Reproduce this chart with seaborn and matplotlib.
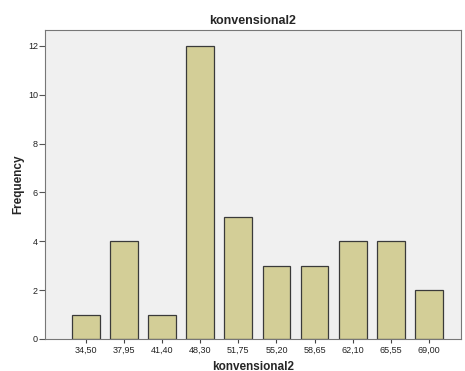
import matplotlib
matplotlib.use("Agg")
import matplotlib.pyplot as plt
import seaborn as sns
import pandas as pd

categories = ["34,50", "37,95", "41,40", "48,30", "51,75", "55,20", "58,65", "62,10", "65,55", "69,00"]
frequency = [1, 4, 1, 12, 5, 3, 3, 4, 4, 2]
y_ticks = [0, 2, 4, 6, 8, 10, 12]

df = pd.DataFrame({"cat": categories, "freq": frequency})

sns.set_style("white")
plt.rcParams['font.family'] = ['Liberation Sans', 'DejaVu Sans']

fig = plt.figure(figsize=(4.65, 3.71), dpi=100)
ax = fig.add_axes([45/465, 32/371, 416/465, 309/371])
ax.set_facecolor("#F0F0F0")

sns.barplot(data=df, x="cat", y="freq", ax=ax, color="#D3CE97",
            edgecolor="#3A3A3A", linewidth=0.9, width=0.73, saturation=1)

ax.set_xlim(-1.07, 9.84)
ax.set_ylim(0, 12.65)
ax.set_yticks(y_ticks)
ax.set_yticklabels([str(v) for v in y_ticks])
ax.tick_params(axis="y", length=4, width=0.8, color="#555555", labelsize=6.5, pad=1, left=True)
ax.tick_params(axis="x", length=3, width=0.8, color="#444444", labelsize=6.5, pad=2, bottom=True)
for lbl in ax.get_xticklabels() + ax.get_yticklabels():
    lbl.set_color("#222222")
for sp in ax.spines.values():
    sp.set_color("#777777")
    sp.set_linewidth(0.8)

ax.set_title("konvensional2", fontsize=9, fontweight="bold", pad=4)
ax.set_xlabel("konvensional2", fontsize=8.5, fontweight="bold", labelpad=4)
ax.set_ylabel("Frequency", fontsize=8.5, fontweight="bold", labelpad=3)

fig.savefig("out.png", dpi=100)
